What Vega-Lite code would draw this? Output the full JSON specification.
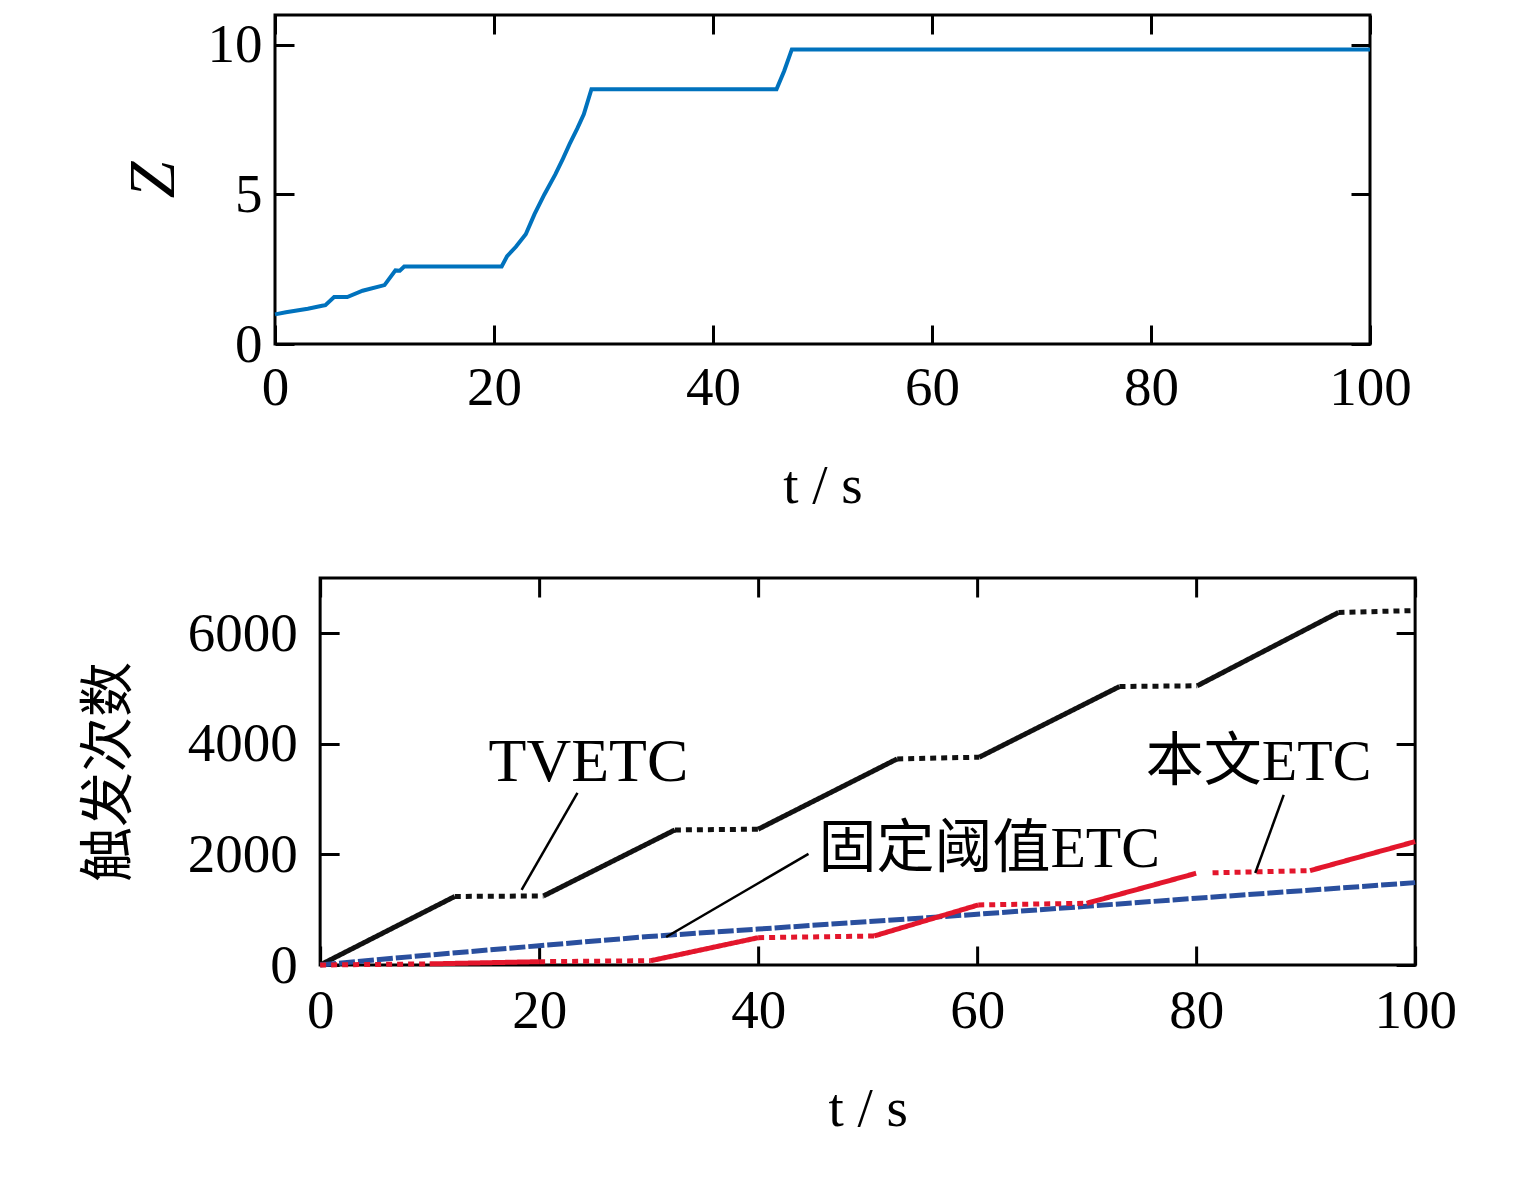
{
  "$schema": "https://vega.github.io/schema/vega-lite/v6.json",
  "padding": {"left": 79, "top": 12, "right": 0, "bottom": 0},
  "align": {"row": "none", "column": "all"},
  "center": {"row": false, "column": true},
  "spacing": 60,
  "datasets": {
    "zdata": [
      {"t": 0, "z": 0.99}, {"t": 1, "z": 1.06}, {"t": 2, "z": 1.12}, {"t": 3, "z": 1.18},
      {"t": 4.3, "z": 1.28}, {"t": 4.6, "z": 1.3}, {"t": 5.4, "z": 1.57}, {"t": 6.6, "z": 1.57},
      {"t": 8, "z": 1.78}, {"t": 10, "z": 1.97}, {"t": 11, "z": 2.46}, {"t": 11.4, "z": 2.45},
      {"t": 11.8, "z": 2.59}, {"t": 20.7, "z": 2.59}, {"t": 21.2, "z": 2.94}, {"t": 22, "z": 3.25},
      {"t": 22.9, "z": 3.67}, {"t": 23.7, "z": 4.34}, {"t": 24.6, "z": 5.0}, {"t": 25.6, "z": 5.67},
      {"t": 26.3, "z": 6.2}, {"t": 26.9, "z": 6.68}, {"t": 27.6, "z": 7.2}, {"t": 28.2, "z": 7.68},
      {"t": 28.9, "z": 8.52}, {"t": 45.8, "z": 8.52}, {"t": 46.5, "z": 9.13}, {"t": 47.2, "z": 9.85},
      {"t": 100, "z": 9.85}
    ],
    "counts": [
      {"series": "TVETC", "part": "TV1", "style": "solid", "t": 0, "v": 0},
      {"series": "TVETC", "part": "TV1", "style": "solid", "t": 12.3, "v": 1240},
      {"series": "TVETC", "part": "TV2", "style": "dot", "t": 12.3, "v": 1240},
      {"series": "TVETC", "part": "TV2", "style": "dot", "t": 20.4, "v": 1249},
      {"series": "TVETC", "part": "TV3", "style": "solid", "t": 20.4, "v": 1249},
      {"series": "TVETC", "part": "TV3", "style": "solid", "t": 32.4, "v": 2443},
      {"series": "TVETC", "part": "TV4", "style": "dot", "t": 32.4, "v": 2443},
      {"series": "TVETC", "part": "TV4", "style": "dot", "t": 40, "v": 2456},
      {"series": "TVETC", "part": "TV5", "style": "solid", "t": 40, "v": 2456},
      {"series": "TVETC", "part": "TV5", "style": "solid", "t": 52.7, "v": 3728},
      {"series": "TVETC", "part": "TV6", "style": "dot", "t": 52.7, "v": 3728},
      {"series": "TVETC", "part": "TV6", "style": "dot", "t": 60.2, "v": 3759},
      {"series": "TVETC", "part": "TV7", "style": "solid", "t": 60.2, "v": 3759},
      {"series": "TVETC", "part": "TV7", "style": "solid", "t": 73, "v": 5037},
      {"series": "TVETC", "part": "TV8", "style": "dot", "t": 73, "v": 5037},
      {"series": "TVETC", "part": "TV8", "style": "dot", "t": 80.1, "v": 5050},
      {"series": "TVETC", "part": "TV9", "style": "solid", "t": 80.1, "v": 5050},
      {"series": "TVETC", "part": "TV9", "style": "solid", "t": 93, "v": 6376},
      {"series": "TVETC", "part": "TV10", "style": "dot", "t": 93, "v": 6376},
      {"series": "TVETC", "part": "TV10", "style": "dot", "t": 100, "v": 6412},
      {"series": "固定阈值ETC", "part": "FX1", "style": "dash", "t": 0, "v": 0},
      {"series": "固定阈值ETC", "part": "FX1", "style": "dash", "t": 10, "v": 181},
      {"series": "固定阈值ETC", "part": "FX1", "style": "dash", "t": 20, "v": 349},
      {"series": "固定阈值ETC", "part": "FX1", "style": "dash", "t": 30, "v": 515},
      {"series": "固定阈值ETC", "part": "FX1", "style": "dash", "t": 40, "v": 650},
      {"series": "固定阈值ETC", "part": "FX1", "style": "dash", "t": 50, "v": 785},
      {"series": "固定阈值ETC", "part": "FX1", "style": "dash", "t": 60, "v": 917},
      {"series": "固定阈值ETC", "part": "FX1", "style": "dash", "t": 70, "v": 1062},
      {"series": "固定阈值ETC", "part": "FX1", "style": "dash", "t": 80, "v": 1207},
      {"series": "固定阈值ETC", "part": "FX1", "style": "dash", "t": 90, "v": 1348},
      {"series": "固定阈值ETC", "part": "FX1", "style": "dash", "t": 100, "v": 1490},
      {"series": "本文ETC", "part": "BW1", "style": "dot", "t": 0, "v": 0},
      {"series": "本文ETC", "part": "BW1", "style": "dot", "t": 10, "v": 20},
      {"series": "本文ETC", "part": "BW2", "style": "solid", "t": 10, "v": 20},
      {"series": "本文ETC", "part": "BW2", "style": "solid", "t": 20, "v": 60},
      {"series": "本文ETC", "part": "BW3", "style": "dot", "t": 20, "v": 60},
      {"series": "本文ETC", "part": "BW3", "style": "dot", "t": 30.2, "v": 78},
      {"series": "本文ETC", "part": "BW4", "style": "solid", "t": 30.2, "v": 78},
      {"series": "本文ETC", "part": "BW4", "style": "solid", "t": 40, "v": 494},
      {"series": "本文ETC", "part": "BW5", "style": "dot", "t": 40, "v": 494},
      {"series": "本文ETC", "part": "BW5", "style": "dot", "t": 50.6, "v": 525},
      {"series": "本文ETC", "part": "BW6", "style": "solid", "t": 50.6, "v": 525},
      {"series": "本文ETC", "part": "BW6", "style": "solid", "t": 60.1, "v": 1086},
      {"series": "本文ETC", "part": "BW7", "style": "dot", "t": 60.1, "v": 1086},
      {"series": "本文ETC", "part": "BW7", "style": "dot", "t": 70, "v": 1116},
      {"series": "本文ETC", "part": "BW8", "style": "solid", "t": 70, "v": 1116},
      {"series": "本文ETC", "part": "BW8", "style": "solid", "t": 80, "v": 1659},
      {"series": "本文ETC", "part": "BW9", "style": "dot", "t": 81.5, "v": 1668},
      {"series": "本文ETC", "part": "BW9", "style": "dot", "t": 90.4, "v": 1707},
      {"series": "本文ETC", "part": "BW10", "style": "solid", "t": 90.4, "v": 1707},
      {"series": "本文ETC", "part": "BW10", "style": "solid", "t": 100, "v": 2232}
    ],
    "labels": [
      {"label": "TVETC", "t": 24.5, "v": 3674, "t1": 23.5, "v1": 3113, "t2": 18.4, "v2": 1357},
      {"label": "固定阈值ETC", "t": 61.1, "v": 2081, "t1": 44.6, "v1": 2009, "t2": 31.6, "v2": 507},
      {"label": "本文ETC", "t": 85.7, "v": 3656, "t1": 88.0, "v1": 3077, "t2": 85.4, "v2": 1665}
    ],
    "empty": []
  },
  "vconcat": [
    {
      "spacing": 0,
      "hconcat": [
        {
          "width": 1095,
          "height": 329,
          "data": {"name": "zdata"},
          "resolve": {"axis": {"x": "independent", "y": "independent"}},
          "layer": [
            {
              "mark": {"type": "line", "color": "#0072BD", "strokeWidth": 4},
              "encoding": {
                "x": {
                  "field": "t", "type": "quantitative", "title": "t / s",
                  "scale": {"domain": [0, 100], "nice": false},
                  "axis": {"values": [0, 20, 40, 60, 80, 100], "labelPadding": 36, "titlePadding": 44}
                },
                "y": {
                  "field": "z", "type": "quantitative", "title": "Z",
                  "scale": {"domain": [0, 11], "nice": false},
                  "axis": {"values": [0, 5, 10], "labelPadding": 32, "titleFontStyle": "italic", "titleFontSize": 66, "titlePadding": 20}
                }
              }
            },
            {
              "mark": {"type": "line", "opacity": 0},
              "encoding": {
                "x": {
                  "field": "t", "type": "quantitative",
                  "scale": {"domain": [0, 100], "nice": false},
                  "axis": {"orient": "top", "values": [0, 20, 40, 60, 80, 100], "labels": false, "title": null}
                },
                "y": {
                  "field": "z", "type": "quantitative",
                  "scale": {"domain": [0, 11], "nice": false},
                  "axis": {"orient": "right", "values": [0, 5, 10], "labels": false, "title": null}
                }
              }
            }
          ]
        },
        {
          "width": 90,
          "height": 10,
          "view": {"stroke": null},
          "data": {"name": "empty"},
          "mark": "point"
        }
      ]
    },
    {
      "width": 1095,
      "height": 387,
      "resolve": {"axis": {"x": "independent", "y": "independent"}},
      "layer": [
        {
          "data": {"name": "counts"},
          "mark": {"type": "line", "strokeWidth": 5},
          "encoding": {
            "x": {
              "field": "t", "type": "quantitative", "title": "t / s",
              "scale": {"domain": [0, 100], "nice": false},
              "axis": {"values": [0, 20, 40, 60, 80, 100], "titlePadding": 44}
            },
            "y": {
              "field": "v", "type": "quantitative", "title": "触发次数",
              "scale": {"domain": [0, 7000], "nice": false},
              "axis": {"values": [0, 2000, 4000, 6000], "format": "d", "labelPadding": 42, "titlePadding": 50, "titleFont": "Liberation Serif, Noto Sans CJK SC"}
            },
            "color": {
              "field": "series", "type": "nominal", "legend": null,
              "scale": {"domain": ["TVETC", "固定阈值ETC", "本文ETC"], "range": ["#111111", "#2a4f9e", "#e3162c"]}
            },
            "strokeDash": {
              "field": "style", "type": "nominal", "legend": null,
              "scale": {"domain": ["solid", "dot", "dash"], "range": [[1, 0], [6, 5], [16, 3]]}
            },
            "detail": {"field": "part", "type": "nominal"}
          }
        },
        {
          "data": {"name": "labels"},
          "mark": {"type": "rule", "color": "black", "strokeWidth": 2.5},
          "encoding": {
            "x": {"field": "t1", "type": "quantitative", "axis": null},
            "y": {"field": "v1", "type": "quantitative", "axis": null},
            "x2": {"field": "t2"},
            "y2": {"field": "v2"}
          }
        },
        {
          "data": {"name": "labels"},
          "mark": {"type": "text", "font": "Liberation Serif, Noto Sans CJK SC", "align": "center", "baseline": "middle", "color": "black"},
          "encoding": {
            "x": {"field": "t", "type": "quantitative", "axis": null},
            "y": {"field": "v", "type": "quantitative", "axis": null},
            "text": {"field": "label", "type": "nominal"},
            "size": {"condition": {"test": "datum.label == 'TVETC'", "value": 62}, "value": 58}
          }
        },
        {
          "data": {"name": "counts"},
          "mark": {"type": "line", "opacity": 0},
          "encoding": {
            "x": {
              "field": "t", "type": "quantitative",
              "scale": {"domain": [0, 100], "nice": false},
              "axis": {"orient": "top", "values": [0, 20, 40, 60, 80, 100], "labels": false, "title": null}
            },
            "y": {
              "field": "v", "type": "quantitative",
              "scale": {"domain": [0, 7000], "nice": false},
              "axis": {"orient": "right", "values": [0, 2000, 4000, 6000], "labels": false, "title": null}
            },
            "detail": {"field": "part", "type": "nominal"}
          }
        }
      ]
    }
  ],
  "config": {
    "background": "white",
    "font": "Liberation Serif",
    "view": {"stroke": "black", "strokeWidth": 3},
    "axis": {
      "domain": false,
      "grid": false,
      "ticks": true,
      "tickColor": "black",
      "tickWidth": 3,
      "tickSize": -19,
      "labelFont": "Liberation Serif",
      "labelFontSize": 55,
      "labelColor": "black",
      "labelPadding": 38,
      "labelFlush": false,
      "labelOverlap": false,
      "titleFont": "Liberation Serif",
      "titleFontSize": 55,
      "titleFontWeight": "normal",
      "titleColor": "black"
    }
  }
}
